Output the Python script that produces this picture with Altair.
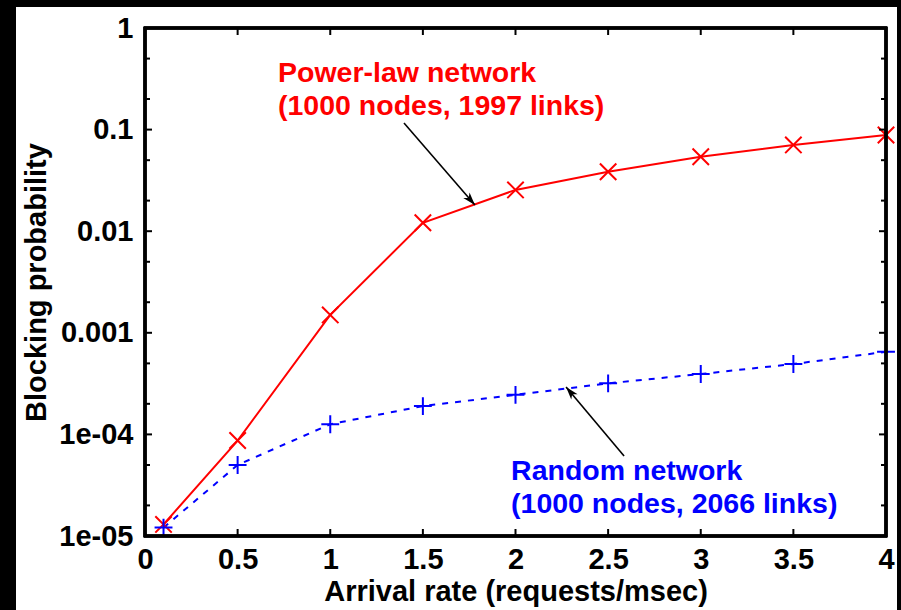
import math
import altair as alt
import pandas as pd

# ---------------- data ----------------
arrival = [0.1, 0.5, 1.0, 1.5, 2.0, 2.5, 3.0, 3.5, 4.0]
powerlaw = [1.3e-5, 8.7e-5, 1.5e-3, 0.0121, 0.0255, 0.0385, 0.054, 0.0707, 0.0885]
random_net = [1.21e-5, 5.0e-5, 1.26e-4, 1.9e-4, 2.45e-4, 3.18e-4, 3.93e-4, 4.93e-4, 6.5e-4]

x_tick_values = [0, 0.5, 1, 1.5, 2, 2.5, 3, 3.5, 4]
x_tick_labels = ["0", "0.5", "1", "1.5", "2", "2.5", "3", "3.5", "4"]
y_tick_values = [1, 0.1, 0.01, 0.001, 1e-4, 1e-5]
y_tick_labels = ["1", "0.1", "0.01", "0.001", "1e-04", "1e-05"]
y_minor_values = [0.5, 0.2, 0.05, 0.02, 0.005, 0.002, 5e-4, 2e-4, 5e-5, 2e-5]

ann_text = ["Power-law network", "(1000 nodes, 1997 links)",
            "Random network", "(1000 nodes, 2066 links)"]
ann_x = [0.718, 0.718, 1.976, 1.976]
ann_y = [0.294, 0.139, 3.56e-5, 1.68e-5]
ann_series = ["Power-law", "Power-law", "Random", "Random"]

arrow_name = ["Power-law", "Random"]
arrow_x = [1.398, 2.586]
arrow_y = [0.116, 6.13e-5]
arrow_x2 = [1.781, 2.273]
arrow_y2 = [0.0181, 2.93e-4]

# ---------------- tables ----------------
df_pl = pd.DataFrame({"x": arrival, "y": powerlaw})
df_rn = pd.DataFrame({"x": arrival, "y": random_net})
df_xt = pd.DataFrame({"v": x_tick_values})
df_yt = pd.DataFrame({"v": y_tick_values})
df_ym = pd.DataFrame({"v": y_minor_values})
df_ann = pd.DataFrame({"t": ann_text, "x": ann_x, "y": ann_y, "s": ann_series})
df_arr = pd.DataFrame({"n": arrow_name, "x": arrow_x, "y": arrow_y, "x2": arrow_x2, "y2": arrow_y2})

W, H = 741, 508
FONT = "Liberation Sans"
FS = 29


def label_expr(values, labels, log=False):
    expr = "''"
    for v, l in reversed(list(zip(values, labels))):
        if log:
            cond = f"abs(log(datum.value)/LN10 - ({math.log10(v)})) < 0.01"
        else:
            cond = f"abs(datum.value - ({v})) < 0.01"
        expr = f"{cond} ? '{l}' : ({expr})"
    return expr


xscale = alt.Scale(domain=[0, 4], nice=False, zero=False)
yscale = alt.Scale(type="log", domain=[1e-5, 1], nice=False)

x_axis = alt.Axis(values=x_tick_values, labelExpr=label_expr(x_tick_values, x_tick_labels),
                  ticks=False, tickSize=0, domain=False, grid=False, zindex=2,
                  labelFont=FONT, labelFontSize=FS, labelFontWeight="bold", labelColor="black",
                  labelPadding=9, labelFlush=False, labelOverlap=False,
                  title="Arrival rate (requests/msec)", titleFont=FONT, titleFontSize=FS,
                  titleFontWeight="bold", titleColor="black", titlePadding=3)
y_axis = alt.Axis(values=y_tick_values, labelExpr=label_expr(y_tick_values, y_tick_labels, log=True),
                  ticks=False, tickSize=0, domain=False, grid=False, zindex=2,
                  labelFont=FONT, labelFontSize=FS, labelFontWeight="bold", labelColor="black",
                  labelPadding=12, labelFlush=False, labelOverlap=False,
                  title="Blocking probability", titleFont=FONT, titleFontSize=FS,
                  titleFontWeight="bold", titleColor="black", titlePadding=7)

X = lambda f: alt.X(f, type="quantitative", scale=xscale, axis=x_axis, title="Arrival rate (requests/msec)")
Y = lambda f: alt.Y(f, type="quantitative", scale=yscale, axis=y_axis, title="Blocking probability")

# white page area inside the black screenshot border
page = alt.Chart(df_pl).mark_rect(fill="white").encode(
    x=alt.value(16 - 145), x2=alt.value(897 - 145),
    y=alt.value(7 - 28), y2=alt.value(610 - 28 + 5))

red_line = alt.Chart(df_pl).mark_line(color="#ff0000", strokeWidth=2).encode(
    x=X("x"), y=Y("y"))
red_pts = alt.Chart(df_pl).mark_point(shape="M-1,-1L1,1M-1,1L1,-1", filled=False, size=270,
                                      stroke="#ff0000", strokeWidth=2, opacity=1).encode(
    x=X("x"), y=Y("y"))
blue_line = alt.Chart(df_rn).mark_line(color="#0000ff", strokeWidth=2, strokeDash=[6, 7]).encode(
    x=X("x"), y=Y("y"))
blue_pts = alt.Chart(df_rn).mark_point(shape="M-1,0L1,0M0,-1L0,1", filled=False, size=320,
                                       stroke="#0000ff", strokeWidth=2, opacity=1).encode(
    x=X("x"), y=Y("y"))

TK, TKm = 7, 5
tick_kw = dict(color="black", strokeWidth=2)
xt_bot = alt.Chart(df_xt).mark_rule(**tick_kw).encode(x=X("v"), y=alt.value(H), y2=alt.value(H - TK))
xt_top = alt.Chart(df_xt).mark_rule(**tick_kw).encode(x=X("v"), y=alt.value(0), y2=alt.value(TK))
yt_left = alt.Chart(df_yt).mark_rule(**tick_kw).encode(y=Y("v"), x=alt.value(0), x2=alt.value(TK))
yt_right = alt.Chart(df_yt).mark_rule(**tick_kw).encode(y=Y("v"), x=alt.value(W), x2=alt.value(W - TK))
ym_left = alt.Chart(df_ym).mark_rule(**tick_kw).encode(y=Y("v"), x=alt.value(0), x2=alt.value(TKm))
ym_right = alt.Chart(df_ym).mark_rule(**tick_kw).encode(y=Y("v"), x=alt.value(W), x2=alt.value(W - TKm))

frame = alt.Chart(df_pl).mark_rect(fill="transparent", stroke="black", strokeWidth=2.5).encode(
    x=alt.value(0), x2=alt.value(W), y=alt.value(0), y2=alt.value(H))

ann = alt.Chart(df_ann).mark_text(align="left", baseline="alphabetic", font=FONT,
                                  fontSize=28.5, fontWeight="bold").encode(
    x=X("x"), y=Y("y"), text="t:N",
    color=alt.Color("s:N", scale=alt.Scale(domain=["Power-law", "Random"],
                                            range=["#ff0000", "#0000ff"]), legend=None))

arrows = alt.Chart(df_arr).mark_rule(color="black", strokeWidth=1.6).encode(
    x=X("x"), y=Y("y"), x2="x2:Q", y2="y2:Q")
HEAD = "M0,0L0.7,2.2L0,1.6L-0.7,2.2Z"
head1 = alt.Chart(df_arr.iloc[[0]]).mark_point(shape=HEAD, filled=True, color="black", size=140,
                                              angle=139, opacity=1).encode(x=X("x2"), y=Y("y2"))
head2 = alt.Chart(df_arr.iloc[[1]]).mark_point(shape=HEAD, filled=True, color="black", size=140,
                                              angle=320, opacity=1).encode(x=X("x2"), y=Y("y2"))

chart = alt.layer(
    page, red_line, blue_line, red_pts, blue_pts,
    xt_bot, xt_top, yt_left, yt_right, ym_left, ym_right, frame,
    arrows, head1, head2, ann
).properties(
    width=W, height=H,
    autosize=alt.AutoSizeParams(type="none"),
    padding={"left": 145, "top": 28, "right": 15, "bottom": 74},
    background="black",
).configure_view(strokeWidth=0)

chart.save("out.html", embed_options={"renderer": "svg", "actions": False})
